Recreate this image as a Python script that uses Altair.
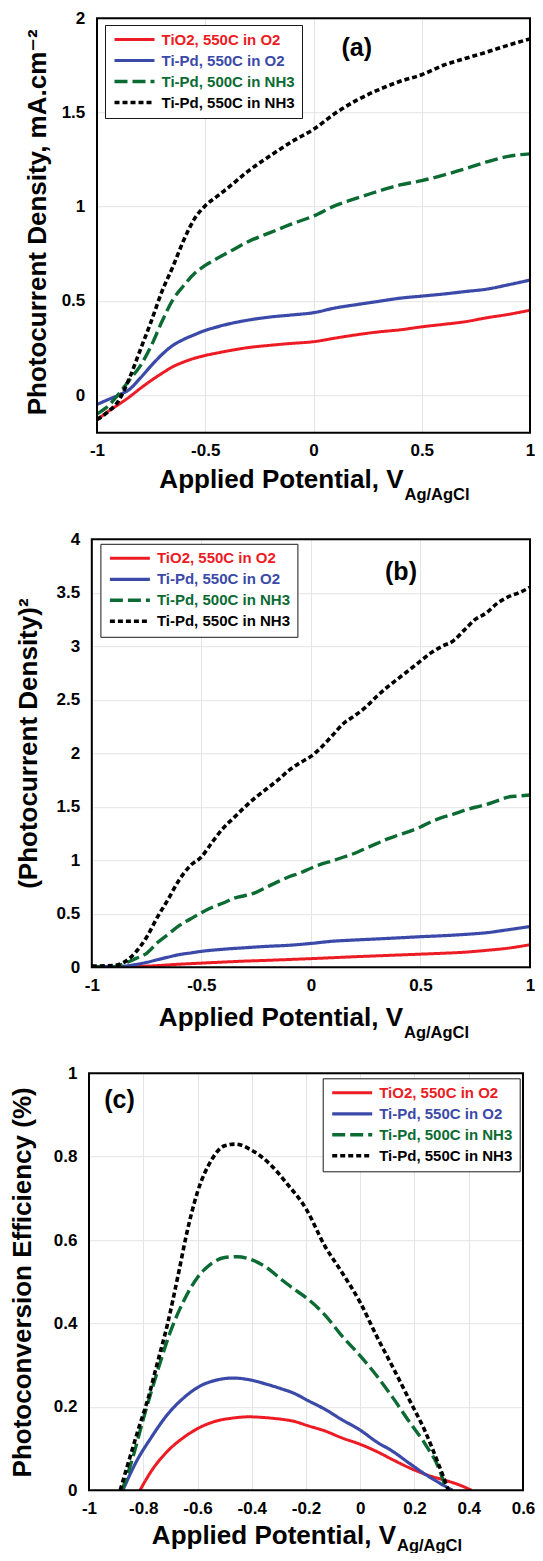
import altair as alt
import pandas as pd

FONT = "Liberation Sans, DejaVu Sans"
SERIES = ["TiO2, 550C in O2", "Ti-Pd, 550C in O2", "Ti-Pd, 500C in NH3", "Ti-Pd, 550C in NH3"]
COLORS = ["#ed1c24", "#3b4aa8", "#0b6b32", "#000000"]
DASHES = [[1, 0], [1, 0], [13, 5], [5, 3]]
WIDTHS = [3.0, 3.6, 3.8, 3.4]

# ---------------- Panel (a): photocurrent density (mA/cm2) ----------------
A_RED_V = [-1.0, -0.95, -0.9, -0.85, -0.8, -0.75, -0.7, -0.65, -0.6, -0.55, -0.5, -0.45, -0.4, -0.3, -0.2, -0.1, 0.0, 0.1, 0.2, 0.3, 0.4, 0.5, 0.6, 0.7, 0.8, 0.9, 1.0]
A_RED_J = [-0.133, -0.088, -0.05, -0.01, 0.035, 0.077, 0.115, 0.15, 0.175, 0.195, 0.21, 0.222, 0.233, 0.252, 0.264, 0.274, 0.283, 0.302, 0.32, 0.335, 0.346, 0.362, 0.375, 0.389, 0.41, 0.428, 0.45]
A_BLUE_V = [-1.0, -0.95, -0.9, -0.85, -0.8, -0.75, -0.7, -0.65, -0.6, -0.55, -0.5, -0.45, -0.4, -0.3, -0.2, -0.1, 0.0, 0.1, 0.2, 0.3, 0.4, 0.5, 0.6, 0.7, 0.8, 0.9, 1.0]
A_BLUE_J = [-0.05, -0.025, 0.0, 0.03, 0.09, 0.155, 0.215, 0.263, 0.295, 0.32, 0.343, 0.36, 0.375, 0.398, 0.414, 0.425, 0.437, 0.462, 0.48, 0.497, 0.514, 0.525, 0.536, 0.549, 0.562, 0.585, 0.61]
A_GREEN_V = [-1.0, -0.95, -0.9, -0.85, -0.8, -0.75, -0.7, -0.65, -0.6, -0.55, -0.5, -0.45, -0.4, -0.3, -0.2, -0.1, 0.0, 0.1, 0.2, 0.3, 0.4, 0.5, 0.6, 0.7, 0.8, 0.9, 1.0]
A_GREEN_J = [-0.1, -0.06, 0.005, 0.08, 0.155, 0.26, 0.39, 0.505, 0.58, 0.645, 0.688, 0.722, 0.753, 0.815, 0.862, 0.908, 0.95, 1.005, 1.045, 1.082, 1.115, 1.138, 1.167, 1.2, 1.237, 1.267, 1.28]
A_BLACK_V = [-1.0, -0.95, -0.9, -0.85, -0.8, -0.75, -0.7, -0.65, -0.6, -0.55, -0.5, -0.45, -0.4, -0.3, -0.2, -0.1, 0.0, 0.1, 0.2, 0.3, 0.4, 0.5, 0.6, 0.7, 0.8, 0.9, 1.0]
A_BLACK_J = [-0.13, -0.09, -0.03, 0.09, 0.24, 0.39, 0.55, 0.68, 0.82, 0.935, 1.005, 1.05, 1.095, 1.19, 1.27, 1.345, 1.41, 1.495, 1.565, 1.62, 1.665, 1.70, 1.75, 1.786, 1.82, 1.857, 1.89]

# ---------------- Panel (b): (photocurrent density)^2 ----------------
B_RED_V = [-1.0, -0.8, -0.75, -0.7, -0.6, -0.5, -0.4, -0.3, -0.2, -0.1, 0.0, 0.1, 0.2, 0.3, 0.4, 0.5, 0.6, 0.7, 0.8, 0.9, 1.0]
B_RED_J2 = [0.005, 0.005, 0.01, 0.015, 0.028, 0.038, 0.048, 0.057, 0.064, 0.072, 0.08, 0.089, 0.098, 0.106, 0.114, 0.122, 0.13, 0.14, 0.157, 0.178, 0.21]
B_BLUE_V = [-1.0, -0.9, -0.85, -0.8, -0.75, -0.7, -0.65, -0.6, -0.55, -0.5, -0.4, -0.3, -0.2, -0.1, 0.0, 0.1, 0.2, 0.3, 0.4, 0.5, 0.6, 0.7, 0.8, 0.9, 1.0]
B_BLUE_J2 = [0.005, 0.005, 0.01, 0.025, 0.045, 0.07, 0.095, 0.118, 0.133, 0.148, 0.168, 0.182, 0.195, 0.205, 0.222, 0.243, 0.254, 0.264, 0.274, 0.285, 0.294, 0.306, 0.322, 0.35, 0.38]
B_GREEN_V = [-1.0, -0.9, -0.85, -0.8, -0.75, -0.7, -0.65, -0.6, -0.55, -0.5, -0.45, -0.4, -0.35, -0.3, -0.25, -0.2, -0.15, -0.1, -0.05, 0.0, 0.05, 0.1, 0.15, 0.2, 0.25, 0.3, 0.35, 0.4, 0.45, 0.5, 0.55, 0.6, 0.65, 0.7, 0.75, 0.8, 0.85, 0.9, 0.95, 1.0]
B_GREEN_J2 = [0.005, 0.005, 0.035, 0.08, 0.13, 0.23, 0.31, 0.39, 0.45, 0.51, 0.56, 0.60, 0.645, 0.67, 0.70, 0.75, 0.80, 0.845, 0.88, 0.925, 0.965, 0.995, 1.03, 1.065, 1.11, 1.155, 1.20, 1.235, 1.27, 1.31, 1.36, 1.40, 1.43, 1.465, 1.495, 1.52, 1.555, 1.59, 1.60, 1.61]
B_BLACK_V = [-1.0, -0.9, -0.85, -0.8, -0.75, -0.7, -0.65, -0.6, -0.55, -0.5, -0.45, -0.4, -0.35, -0.3, -0.25, -0.2, -0.15, -0.1, -0.05, 0.0, 0.05, 0.1, 0.15, 0.2, 0.25, 0.3, 0.35, 0.4, 0.45, 0.5, 0.55, 0.6, 0.65, 0.7, 0.75, 0.8, 0.85, 0.9, 0.95, 1.0]
B_BLACK_J2 = [0.01, 0.015, 0.05, 0.14, 0.28, 0.47, 0.64, 0.82, 0.95, 1.03, 1.17, 1.30, 1.40, 1.50, 1.59, 1.67, 1.75, 1.84, 1.91, 1.97, 2.06, 2.17, 2.28, 2.35, 2.43, 2.53, 2.62, 2.70, 2.78, 2.86, 2.94, 3.0, 3.05, 3.15, 3.25, 3.31, 3.40, 3.46, 3.50, 3.55]

# ---------------- Panel (c): photoconversion efficiency (%) ----------------
C_RED_V = [-0.812, -0.77, -0.71, -0.65, -0.59, -0.53, -0.47, -0.41, -0.35, -0.29, -0.25, -0.19, -0.13, -0.07, 0.0, 0.06, 0.12, 0.18, 0.24, 0.3, 0.36, 0.41]
C_RED_E = [0.0, 0.046, 0.094, 0.127, 0.151, 0.166, 0.173, 0.176, 0.174, 0.17, 0.166, 0.154, 0.142, 0.126, 0.11, 0.093, 0.073, 0.054, 0.038, 0.026, 0.014, 0.0]
C_BLUE_V = [-0.875, -0.83, -0.77, -0.71, -0.65, -0.59, -0.53, -0.47, -0.41, -0.35, -0.29, -0.25, -0.19, -0.13, -0.07, 0.0, 0.06, 0.12, 0.18, 0.24, 0.29, 0.34]
C_BLUE_E = [0.0, 0.063, 0.127, 0.182, 0.222, 0.25, 0.264, 0.269, 0.265, 0.255, 0.243, 0.234, 0.214, 0.194, 0.17, 0.144, 0.116, 0.093, 0.065, 0.038, 0.018, 0.0]
C_GREEN_V = [-0.878, -0.84, -0.8, -0.75, -0.7, -0.65, -0.6, -0.55, -0.5, -0.455, -0.41, -0.35, -0.29, -0.25, -0.2, -0.13, -0.07, 0.0, 0.06, 0.12, 0.18, 0.24, 0.29, 0.318]
C_GREEN_E = [0.0, 0.075, 0.17, 0.28, 0.38, 0.455, 0.51, 0.543, 0.558, 0.56, 0.555, 0.536, 0.505, 0.485, 0.462, 0.42, 0.372, 0.322, 0.275, 0.222, 0.165, 0.11, 0.052, 0.0]
C_BLACK_V = [-0.885, -0.86, -0.82, -0.78, -0.75, -0.71, -0.67, -0.64, -0.6, -0.55, -0.5, -0.46, -0.4, -0.33, -0.27, -0.2, -0.13, -0.07, 0.0, 0.06, 0.12, 0.18, 0.24, 0.29, 0.325]
C_BLACK_E = [0.0, 0.055, 0.142, 0.225, 0.3, 0.4, 0.52, 0.615, 0.715, 0.79, 0.826, 0.83, 0.815, 0.78, 0.735, 0.675, 0.585, 0.525, 0.45, 0.37, 0.295, 0.218, 0.14, 0.06, 0.0]

A_X_TICKS = [-1, -0.5, 0, 0.5, 1]
A_Y_TICKS = [0, 0.5, 1, 1.5, 2]
B_X_TICKS = [-1, -0.5, 0, 0.5, 1]
B_Y_TICKS = [0, 0.5, 1, 1.5, 2, 2.5, 3, 3.5, 4]
C_X_TICKS = [-1, -0.8, -0.6, -0.4, -0.2, 0, 0.2, 0.4, 0.6]
C_Y_TICKS = [0, 0.2, 0.4, 0.6, 0.8, 1]


def long_df(pairs):
    rows = []
    for name, xs, ys in pairs:
        for i, (xv, yv) in enumerate(zip(xs, ys)):
            rows.append({"V": xv, "Y": yv, "series": name, "idx": i})
    return pd.DataFrame(rows)


DF_A = long_df([(SERIES[0], A_RED_V, A_RED_J), (SERIES[1], A_BLUE_V, A_BLUE_J),
                (SERIES[2], A_GREEN_V, A_GREEN_J), (SERIES[3], A_BLACK_V, A_BLACK_J)])
DF_B = long_df([(SERIES[0], B_RED_V, B_RED_J2), (SERIES[1], B_BLUE_V, B_BLUE_J2),
                (SERIES[2], B_GREEN_V, B_GREEN_J2), (SERIES[3], B_BLACK_V, B_BLACK_J2)])
DF_C = long_df([(SERIES[0], C_RED_V, C_RED_E), (SERIES[1], C_BLUE_V, C_BLUE_E),
                (SERIES[2], C_GREEN_V, C_GREEN_E), (SERIES[3], C_BLACK_V, C_BLACK_E)])

LABEL_FILL = "[" + ",".join("'%s'" % c for c in COLORS) + "][indexof([" + ",".join("'%s'" % s for s in SERIES) + "], datum.value)]"

ONE = pd.DataFrame({"k": [0]})


def text_layer(text, x, y, size, angle=0, align="center", baseline="middle"):
    return alt.Chart(ONE).mark_text(
        text=text, font=FONT, fontSize=size, fontWeight="bold", color="black",
        angle=angle, align=align, baseline=baseline,
    ).encode(x=alt.value(x), y=alt.value(y))


def rect_layer(x, x2, y, y2, **kw):
    return alt.Chart(ONE).mark_rect(**kw).encode(
        x=alt.value(x), x2=alt.value(x2), y=alt.value(y), y2=alt.value(y2))


def panel(df, x_domain, x_ticks, y_domain, y_ticks, width, height, x_off, y_pad,
          legend_xy, label, label_xy, ytitle, ytitle_xy,
          xt_split, xt_base, xt_sub_base):
    leg = alt.Legend(
        title=None, orient="none", legendX=legend_xy[0], legendY=legend_xy[1],
        fillColor="white", strokeColor="#1a1a1a", padding=7,
        symbolType="M-4,0H4", symbolSize=100, symbolStrokeWidth=3.5, symbolOffset=15,
        labelFont=FONT, labelFontSize=15, labelFontWeight="bold", labelOffset=19.5,
        rowPadding=5, labelLimit=0,
        labelColor=alt.ExprRef(expr=LABEL_FILL),
    )
    x = alt.X("V:Q", scale=alt.Scale(domain=x_domain, range=[x_off, width], nice=False, zero=False),
              axis=alt.Axis(values=x_ticks, title=None, labelExpr="datum.value + ''",
                            labelFlush=False, labelPadding=10))
    y = alt.Y("Y:Q", scale=alt.Scale(domain=y_domain, nice=False, zero=False),
              axis=alt.Axis(values=y_ticks, title=None, labelExpr="datum.value + ''",
                            labelFlush=False, labelPadding=y_pad))
    lines = alt.Chart(df).mark_line(interpolate="monotone", clip=True).encode(
        x=x, y=y,
        color=alt.Color("series:N", scale=alt.Scale(domain=SERIES, range=COLORS), legend=leg),
        strokeDash=alt.StrokeDash("series:N", scale=alt.Scale(domain=SERIES, range=DASHES), legend=leg),
        strokeWidth=alt.StrokeWidth("series:N", scale=alt.Scale(domain=SERIES, range=WIDTHS), legend=None),
        order="idx:Q",
    )
    layers = [lines]
    if x_off > 0:
        layers.append(rect_layer(-1, x_off - 1, 0, height, fill="white"))
    layers += [
        rect_layer(x_off, width, 0, height, fill="white", fillOpacity=0, stroke="black", strokeWidth=2),
        text_layer(label, label_xy[0], label_xy[1], 25),
        text_layer("Applied Potential, V", xt_split, xt_base, 26, align="right", baseline="alphabetic"),
        text_layer("Ag/AgCl", xt_split + 1, xt_sub_base, 16.5, align="left", baseline="alphabetic"),
        text_layer(ytitle, ytitle_xy[0], ytitle_xy[1], 26, angle=270, align="left", baseline="middle"),
    ]
    return alt.layer(*layers).properties(width=width, height=height)


pa = panel(DF_A, [-1, 1], A_X_TICKS, [-0.2, 2], A_Y_TICKS, 441, 414.5, 8, 4.2,
           (16, 6.8), "(a)", (267.7, 30.1),
           "Photocurrent Density, mA.cm\u207b\u00b2", (-51, 397.1),
           314.5, 469.5, 482.2)
pb = panel(DF_B, [-1, 1], B_X_TICKS, [0, 4], B_Y_TICKS, 441, 428, 2.8, 9.4,
           (11.4, 4.6), "(b)", (312, 33),
           "(Photocurrent Density)\u00b2", (-60, 349.6),
           314, 486.3, 498.5)
pc = panel(DF_C, [-1, 0.6], C_X_TICKS, [0, 1], C_Y_TICKS, 434, 417, 0, 12,
           (233.7, 5.1), "(c)", (30.5, 27),
           "Photoconversion Efficiency (%)", (-66.5, 404.2),
           307, 471, 478)

chart = alt.vconcat(pa, pb, pc, spacing=106, bounds="flush").resolve_scale(
    x="independent", y="independent", color="independent",
    strokeDash="independent", strokeWidth="independent",
).resolve_legend(color="independent", strokeDash="independent").properties(
    autosize=alt.AutoSizeParams(type="none"),
    padding={"left": 81, "top": 10.2, "right": 446, "bottom": 1534.8},
).configure_view(stroke=None).configure_axis(
    labelFont=FONT, labelFontSize=17, labelFontWeight="bold", labelColor="black",
    gridColor="#e4e4e4", gridWidth=1, domain=False, ticks=False,
)

chart.save("out.html", embed_options={"renderer": "svg", "actions": False})
